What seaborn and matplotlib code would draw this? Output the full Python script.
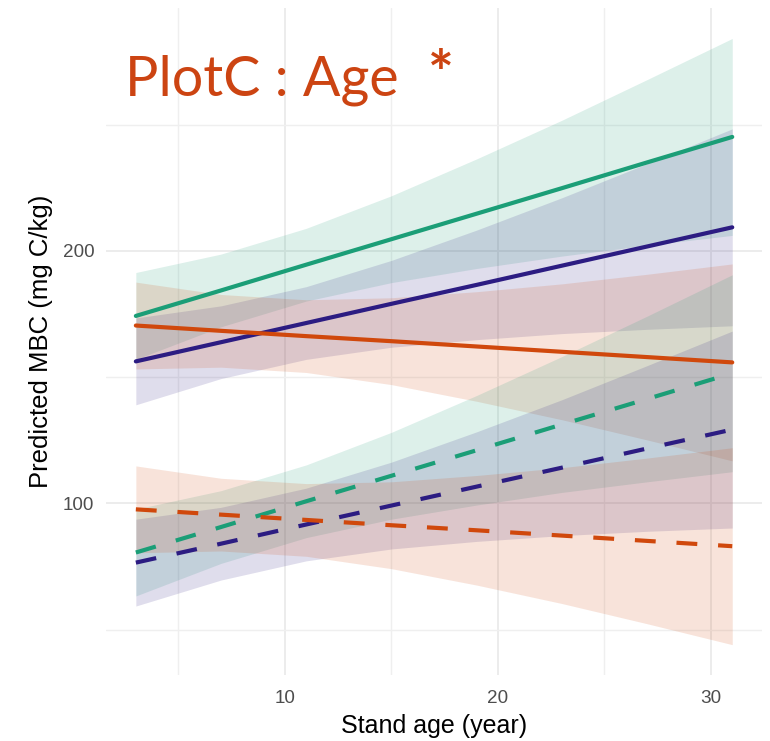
import matplotlib
matplotlib.use("Agg")
import matplotlib.pyplot as plt
import seaborn as sns
import pandas as pd
import numpy as np

# ---- data ----
age = [3, 7, 11, 15, 19, 23, 27, 31]

# solid lines
green_solid_fit   = [174.2, 184.3, 194.5, 204.6, 214.7, 224.8, 235.0, 245.1]
green_solid_lo    = [157.0, 169.9, 180.1, 187.4, 193.0, 197.9, 202.2, 206.1]
green_solid_hi    = [191.4, 198.7, 208.9, 221.8, 236.4, 251.7, 267.8, 284.1]

navy_solid_fit    = [156.2, 163.8, 171.4, 179.0, 186.5, 194.1, 201.7, 209.3]
navy_solid_lo     = [139.0, 149.4, 157.0, 161.8, 164.8, 167.2, 168.9, 170.3]
navy_solid_hi     = [173.4, 178.2, 185.8, 196.2, 208.2, 221.0, 234.5, 248.3]

orange_solid_fit  = [170.4, 168.3, 166.2, 164.2, 162.1, 160.0, 157.9, 155.8]
orange_solid_lo   = [153.2, 153.9, 151.8, 147.0, 140.4, 133.1, 125.1, 116.8]
orange_solid_hi   = [187.6, 182.7, 180.6, 181.4, 183.8, 186.9, 190.7, 194.8]

# dashed lines
green_dash_fit    = [80.5, 90.6, 100.8, 110.9, 121.0, 131.2, 141.3, 151.5]
green_dash_lo     = [63.3, 76.2, 86.4, 93.7, 99.3, 104.3, 108.5, 112.5]
green_dash_hi     = [97.7, 105.0, 115.2, 128.1, 142.7, 158.1, 174.1, 190.5]

navy_dash_fit     = [76.5, 84.0, 91.6, 99.1, 106.6, 114.1, 121.7, 129.2]
navy_dash_lo      = [59.3, 69.6, 77.2, 81.9, 84.9, 87.2, 88.9, 90.2]
navy_dash_hi      = [93.7, 98.4, 106.0, 116.3, 128.3, 141.0, 154.5, 168.2]

orange_dash_fit   = [97.6, 95.5, 93.4, 91.3, 89.3, 87.2, 85.1, 83.0]
orange_dash_lo    = [80.4, 81.1, 79.0, 74.1, 67.6, 60.3, 52.3, 44.0]
orange_dash_hi    = [114.8, 109.9, 107.8, 108.5, 111.0, 114.1, 117.9, 122.0]

x_ticks = [10, 20, 30]
y_ticks = [100, 200]
title_main = "PlotC : Age"
title_mark = "*"
x_label = "Stand age (year)"
y_label = "Predicted MBC (mg C/kg)"

# ---- build long table ----
series = [
    ("green", "solid", green_solid_fit, green_solid_lo, green_solid_hi),
    ("navy", "solid", navy_solid_fit, navy_solid_lo, navy_solid_hi),
    ("orange", "solid", orange_solid_fit, orange_solid_lo, orange_solid_hi),
    ("green", "dash", green_dash_fit, green_dash_lo, green_dash_hi),
    ("navy", "dash", navy_dash_fit, navy_dash_lo, navy_dash_hi),
    ("orange", "dash", orange_dash_fit, orange_dash_lo, orange_dash_hi),
]
rows = []
for grp, ltype, fit, lo, hi in series:
    for a, f, l, h in zip(age, fit, lo, hi):
        rows.append(dict(age=a, fit=f, lo=l, hi=h, group=grp, ltype=ltype,
                         key=f"{grp}-{ltype}"))
df = pd.DataFrame(rows)

palette = {"green": "#1B9E77", "navy": "#2C1C82", "orange": "#D0480C"}

sns.set_style("white")
plt.rcParams["font.family"] = ["Liberation Sans", "DejaVu Sans"]

fig = plt.figure(figsize=(7.7, 7.41), dpi=100)
ax = fig.add_axes([0.1377, 0.0891, 0.852, 0.8999])

# ribbons
for key, sub in df.groupby("key", sort=False):
    ax.fill_between(sub["age"], sub["lo"], sub["hi"],
                    color=palette[sub["group"].iloc[0]], alpha=0.15,
                    linewidth=0, zorder=2)

sns.lineplot(data=df, x="age", y="fit", hue="group", style="ltype",
             units="key", estimator=None, palette=palette,
             dashes={"solid": "", "dash": (5, 5)},
             linewidth=3.0, legend=False, ax=ax, zorder=3)

# limits with ggplot-style 5% expansion
xmin, xmax = min(age), max(age)
xr = xmax - xmin
ax.set_xlim(xmin - 0.05 * xr, xmax + 0.05 * xr)
ymin, ymax = df["lo"].min(), df["hi"].max()
yr = ymax - ymin
ax.set_ylim(ymin - 0.05 * yr, ymax + 0.05 * yr)

ax.set_xticks(x_ticks)
ax.set_yticks(y_ticks)
ax.set_xticks([5, 15, 25], minor=True)
ax.set_yticks([50, 150, 250], minor=True)
ax.grid(True, which="major", color="#EBEBEB", linewidth=1.3, zorder=0)
ax.grid(True, which="minor", color="#EFEFEF", linewidth=1.0, zorder=0)
ax.set_axisbelow(True)
for s in ax.spines.values():
    s.set_visible(False)
ax.tick_params(axis="both", which="both", length=0, labelsize=13.6,
               labelcolor="#4D4D4D")
ax.tick_params(axis="x", pad=11)
ax.tick_params(axis="y", pad=8.5)

ax.set_xlabel(x_label, fontsize=18, color="black", labelpad=5)
ax.set_ylabel(y_label, fontsize=18.5, color="black", labelpad=7)

fig.text(125 / 770, 1 - 95 / 741, title_main, fontsize=40,
         color="#CC4412", family=["Lato", "DejaVu Sans"],
         ha="left", va="baseline")
fig.text(428 / 770, 1 - 95 / 741, title_mark, fontsize=44,
         color="#CC4412", family=["Lato", "DejaVu Sans"], fontweight="bold",
         ha="left", va="baseline")

fig.savefig("out.png", dpi=100, facecolor="white")
